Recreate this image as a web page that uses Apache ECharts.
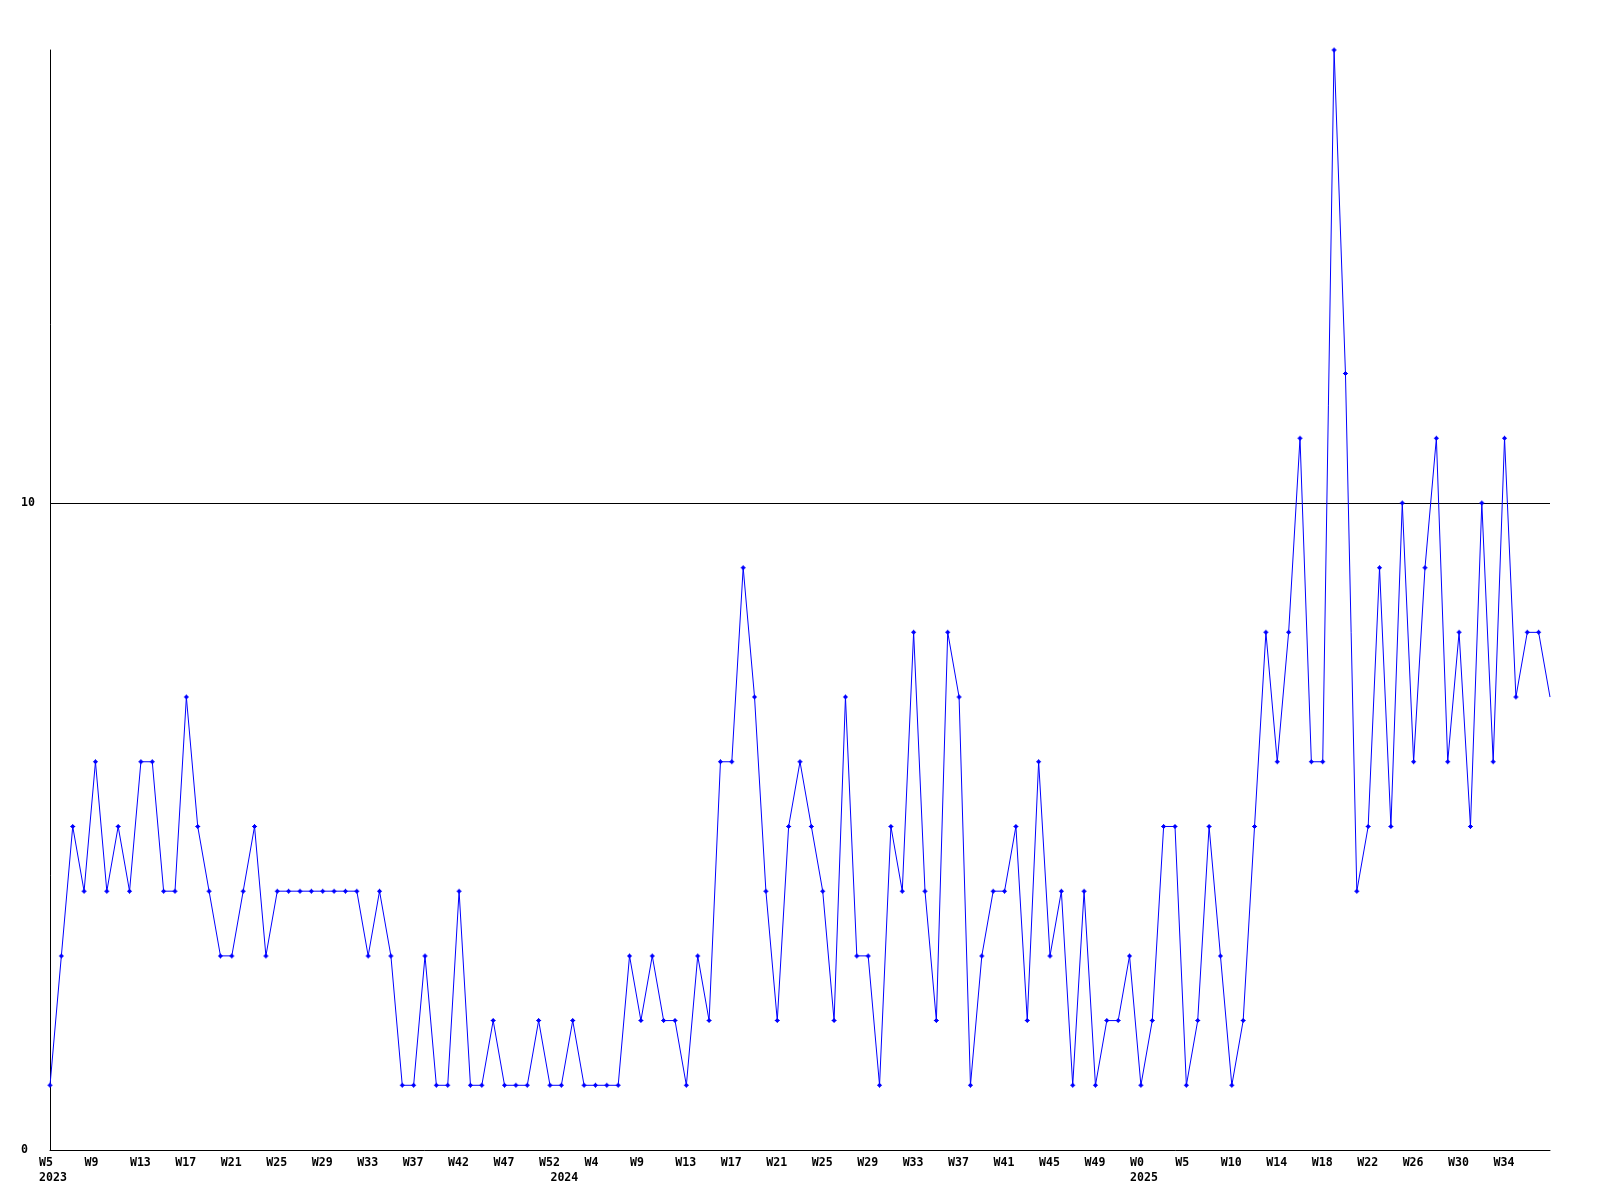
<!DOCTYPE html>
<html>
<head>
<meta charset="utf-8">
<script src="https://cdn.jsdelivr.net/npm/echarts@6/dist/echarts.min.js"></script>
<style>
  html, body { margin: 0; padding: 0; background: #ffffff; }
  #chart { width: 1600px; height: 1200px; }
</style>
</head>
<body>
<div id="chart"></div>
<script>
// Weekly values, 2023 W5 .. 2025 W36
const values = [
  1,3,5,4,6,4,5,4,6,6,4,4,7,5,4,3,3,4,5,3,
  4,4,4,4,4,4,4,4,3,4,3,1,1,3,1,1,4,1,1,2,
  1,1,1,2,1,1,2,1,1,1,1,3,2,3,2,2,1,3,2,6,
  6,9,7,4,2,5,6,5,4,2,7,3,3,1,5,4,8,4,2,8,
  7,1,3,4,4,5,2,6,3,4,1,4,1,2,2,3,1,2,5,5,
  1,2,5,3,1,2,5,8,6,8,11,6,6,17,12,4,5,9,5,10,
  6,9,11,6,8,5,10,6,11,7,8,8,7
];
// Week tick labels, one every 4th point
const weekTicks = ['W5','W9','W13','W17','W21','W25','W29','W33','W37','W42','W47','W52',
  'W4','W9','W13','W17','W21','W25','W29','W33','W37','W41','W45','W49',
  'W0','W5','W10','W14','W18','W22','W26','W30','W34'];
const tickStep = 4;
// Year labels and the point index where each year begins
const yearLabels = ['2023','2024','2025'];
const yearStarts = [0, 45, 96];
// Y axis tick labels
const yTicks = [0, 10];

const weekCats = values.map((_, i) => {
  const k = i / tickStep;
  return (i % tickStep === 0 && k < weekTicks.length) ? weekTicks[k] : '';
});
const yearCats = values.map((_, i) => {
  const k = yearStarts.indexOf(i);
  return k >= 0 ? yearLabels[k] : '';
});
const seriesData = values.map((v, i) => (i === values.length - 1 ? { value: v, symbol: 'none' } : v));

const font = { fontFamily: 'DejaVu Sans Mono', fontWeight: 'bold', fontSize: 11.6, color: '#000000' };

const chart = echarts.init(document.getElementById('chart'), null, { renderer: 'canvas' });
chart.setOption({
  animation: false,
  backgroundColor: '#ffffff',
  grid: { left: 50, right: 50, top: 50, bottom: 50, containLabel: false, outerBoundsMode: 'none' },
  xAxis: [
    {
      type: 'category',
      data: weekCats,
      boundaryGap: false,
      axisLine: { show: true, lineStyle: { color: '#000000', width: 1 } },
      axisTick: { show: false },
      splitLine: { show: false },
      axisLabel: Object.assign({
        interval: (i, v) => v !== '',
        align: 'left',
        padding: [0, 0, 0, -11],
        margin: 7
      }, font)
    },
    {
      type: 'category',
      data: yearCats,
      boundaryGap: false,
      position: 'bottom',
      axisLine: { show: false },
      axisTick: { show: false },
      splitLine: { show: false },
      axisLabel: Object.assign({
        interval: (i, v) => v !== '',
        align: 'center',
        padding: [0, 0, 0, 6],
        margin: 22
      }, font)
    }
  ],
  yAxis: {
    type: 'value',
    min: 0,
    max: 17,
    interval: 10,
    axisLine: { show: true, lineStyle: { color: '#000000', width: 1 } },
    axisTick: { show: false },
    splitLine: { show: true, showMinLine: false, showMaxLine: false, lineStyle: { color: '#000000', width: 1 } },
    axisLabel: Object.assign({
      showMaxLabel: false,
      align: 'left',
      margin: 29,
      formatter: (v) => (yTicks.indexOf(v) >= 0 ? String(v) : '')
    }, font)
  },
  series: [{
    type: 'line',
    data: seriesData,
    xAxisIndex: 0,
    yAxisIndex: 0,
    symbol: 'path://M0,2H1V1H2V0H3V1H4V2H5V3H4V4H3V5H2V4H1V3H0Z',
    symbolSize: 5,
    showAllSymbol: true,
    itemStyle: { color: '#0000ff' },
    lineStyle: { color: '#0000ff', width: 1 },
    emphasis: { disabled: true }
  }]
});
</script>
</body>
</html>
